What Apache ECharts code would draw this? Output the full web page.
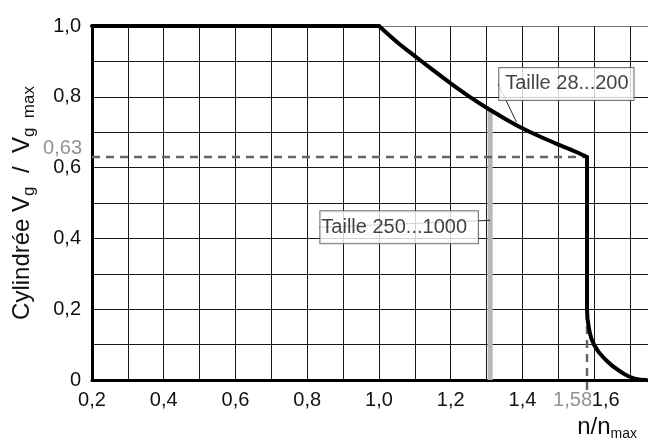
<!DOCTYPE html>
<html>
<head>
<meta charset="utf-8">
<script src="https://cdn.jsdelivr.net/npm/echarts@6/dist/echarts.min.js"></script>
<style>
  html, body { margin: 0; padding: 0; background: #fff; }
  #chart { width: 648px; height: 441px; }
</style>
</head>
<body>
<div id="chart"></div>
<script>
// Displacement ratio vs. speed ratio, drawn in four pieces
// full displacement up to nominal speed
const flatX = [0.2, 1.0];
const flatY = [1.0, 1.0];
// reduced displacement above nominal speed
const hyperX = [1.0, 1.05, 1.1, 1.15, 1.2, 1.25, 1.3, 1.35, 1.4, 1.45, 1.5, 1.55, 1.58];
const hyperY = [1.0, 0.955, 0.915, 0.876, 0.838, 0.802, 0.769, 0.739, 0.711, 0.687, 0.665, 0.644, 0.63];
// drop at maximum speed
const dropX = [1.58, 1.58];
const dropY = [0.63, 0.2];
// run-out toward zero displacement
const tailX = [1.58, 1.585, 1.6, 1.634, 1.676, 1.713, 1.745];
const tailY = [0.2, 0.148, 0.099, 0.055, 0.022, 0.004, 0];

// Reference values marked with dashed guides
const refDisp = 0.63;
const refSpeed = 1.58;
const refDispLabel = '0,63';
const refSpeedLabel = '1,58';
const dashHX = [0.2, 1.58];
const dashHY = [0.63, 0.63];
const dashVX = [1.58, 1.58];
const dashVY = [-0.028, 0.2];

// Size limit line (sizes 250...1000)
const limitX = [1.31, 1.31];
const limitY = [0, 0.763];

// Annotations
const annoSmall = { text: 'Taille 28...200', x: 1.383, y: 0.729 };
const annoLarge = { text: 'Taille 250...1000', x: 1.31, y: 0.451 };

const FONT = "'Liberation Sans', Arial, Helvetica, sans-serif";

function zip(xs, ys) { return xs.map((x, i) => [x, ys[i]]); }
function fmt(v, digits) { return v.toFixed(digits).replace('.', ','); }
function isEvenTenth(v) { return Math.abs(v * 5 - Math.round(v * 5)) < 1e-6; }

const chart = echarts.init(document.getElementById('chart'), null, { renderer: 'canvas' });

const boxLabel = {
  show: true,
  position: 'inside',
  fontFamily: FONT,
  fontSize: 20,
  lineHeight: 23,
  color: '#111',
  backgroundColor: '#fff',
  borderColor: '#555',
  borderWidth: 1
};

function curvePiece(name, xs, ys, smooth) {
  return {
    name: name,
    type: 'line',
    data: zip(xs, ys),
    symbol: 'none',
    smooth: smooth,
    clip: false,
    lineStyle: { color: '#000', width: 4, cap: 'round', join: 'round' },
    z: 5
  };
}

// split lines: dark grid, lighter top edge
const ySplitColors = [];
for (let i = 0; i < 10; i++) ySplitColors.push('#1a1a1a');
ySplitColors.push('#777');

chart.setOption({
  animation: false,
  backgroundColor: '#fff',
  textStyle: { fontFamily: FONT },
  grid: { left: 92, right: 0, top: 26, bottom: 58, containLabel: false },
  xAxis: {
    type: 'value',
    min: 0.2,
    max: 1.75,
    interval: 0.1,
    name: '{m|n/n}{s|max}',
    nameLocation: 'end',
    nameGap: -11,
    nameTextStyle: {
      align: 'right',
      verticalAlign: 'top',
      padding: [35, 0, 0, 0],
      rich: {
        m: { fontFamily: FONT, fontSize: 24, color: '#111', lineHeight: 24, verticalAlign: 'top' },
        s: { fontFamily: FONT, fontSize: 14, color: '#111', lineHeight: 14, verticalAlign: 'top', padding: [12, 0, 0, 0] }
      }
    },
    axisLine: { show: true, onZero: false, lineStyle: { color: '#000', width: 3 } },
    axisTick: { show: false },
    axisLabel: {
      margin: 10,
      fontFamily: FONT,
      fontSize: 20,
      color: '#111',
      showMaxLabel: false,
      formatter: function (v) {
        if (!isEvenTenth(v) || v > 1.65) return '';
        if (Math.abs(v - 1.6) < 1e-6) return '{r|' + fmt(v, 1) + '}';
        return fmt(v, 1);
      },
      rich: {
        r: { fontFamily: FONT, fontSize: 20, color: '#111', padding: [0, 0, 0, 23] }
      }
    },
    splitLine: { show: true, lineStyle: { color: '#1a1a1a', width: 1 } }
  },
  yAxis: {
    type: 'value',
    min: 0,
    max: 1,
    interval: 0.1,
    name: '{m|Cylindrée V}{s|g}{m|  /  V}{s|g  max}',
    nameLocation: 'middle',
    nameRotate: 90,
    nameGap: 58,
    nameTextStyle: {
      rich: {
        m: { fontFamily: FONT, fontSize: 24, color: '#111', lineHeight: 24, verticalAlign: 'top' },
        s: { fontFamily: FONT, fontSize: 17, color: '#111', lineHeight: 16, verticalAlign: 'top', padding: [11, 0, 0, 0] }
      }
    },
    axisLine: { show: true, lineStyle: { color: '#000', width: 3 } },
    axisTick: { show: false },
    axisLabel: {
      margin: 11,
      fontFamily: FONT,
      fontSize: 20,
      color: '#111',
      formatter: function (v) {
        if (!isEvenTenth(v)) return '';
        return v === 0 ? '0' : fmt(v, 1);
      }
    },
    splitLine: { show: true, lineStyle: { color: ySplitColors, width: 1 } }
  },
  series: [
    {
      name: 'limit',
      type: 'line',
      data: zip(limitX, limitY),
      symbol: 'none',
      lineStyle: { color: '#b8b8b8', width: 5 },
      z: 3
    },
    {
      name: 'guideH',
      type: 'line',
      data: zip(dashHX, dashHY),
      symbol: 'none',
      lineStyle: { color: '#666', width: 2.5, type: [8, 6] },
      z: 4
    },
    {
      name: 'guideV',
      type: 'line',
      data: zip(dashVX, dashVY),
      symbol: 'none',
      clip: false,
      lineStyle: { color: '#666', width: 2.5, type: [8, 6] },
      z: 4
    },
    curvePiece('flat', flatX, flatY, false),
    curvePiece('hyper', hyperX, hyperY, 0.3),
    curvePiece('drop', dropX, dropY, false),
    curvePiece('tail', tailX, tailY, 0.5),
    {
      name: 'refLabels',
      type: 'scatter',
      symbolSize: 0,
      silent: true,
      clip: false,
      z: 6,
      data: [
        {
          value: [0.2, refDisp],
          label: {
            show: true, position: 'left', distance: 10, offset: [0, -8],
            formatter: refDispLabel, fontFamily: FONT, fontSize: 20, color: '#777'
          }
        },
        {
          value: [refSpeed, 0],
          label: {
            show: true, position: 'bottom', distance: 10, align: 'right', offset: [5, 0],
            formatter: refSpeedLabel, fontFamily: FONT, fontSize: 20, color: '#777'
          }
        }
      ]
    },
    {
      name: 'annoSmall',
      type: 'scatter',
      symbolSize: 0,
      silent: true,
      z: 7,
      data: [[annoSmall.x, annoSmall.y]],
      label: Object.assign({}, boxLabel, { formatter: annoSmall.text, padding: [5, 5, 4, 6] }),
      labelLayout: { dx: 50, dy: -38 },
      labelLine: { show: true, lineStyle: { color: '#222', width: 1 } }
    },
    {
      name: 'annoLarge',
      type: 'scatter',
      symbolSize: 0,
      silent: true,
      z: 7,
      data: [[annoLarge.x, annoLarge.y]],
      label: Object.assign({}, boxLabel, { formatter: annoLarge.text, padding: [5, 11, 4, 1] }),
      labelLayout: { dx: -91, dy: 7 },
      labelLine: { show: true, lineStyle: { color: '#222', width: 1 } }
    }
  ]
});
</script>
</body>
</html>
